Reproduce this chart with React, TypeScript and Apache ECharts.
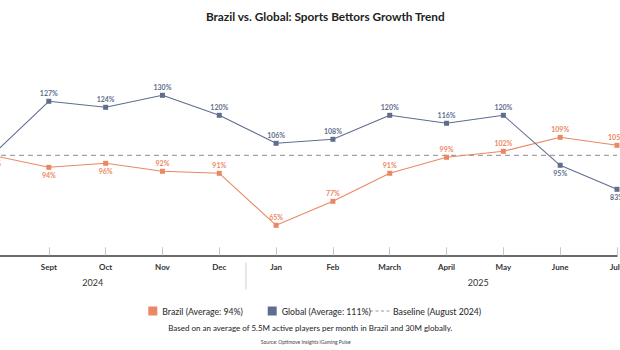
import React, { useEffect, useRef } from "react";
import * as echarts from "echarts";

const months = ["Aug", "Sept", "Oct", "Nov", "Dec", "Jan", "Feb", "March", "April", "May", "June", "July"];
const brazil = [100, 94, 96, 92, 91, 65, 77, 91, 99, 102, 109, 105];
const globalVals = [100, 127, 124, 130, 120, 106, 108, 120, 116, 120, 95, 83];
const baseline = [100, 100, 100, 100, 100, 100, 100, 100, 100, 100, 100, 100];
const brazilLabelPos = ["bottom", "bottom", "bottom", "top", "top", "top", "top", "top", "top", "top", "top", "top"];
const globalLabelPos = ["none", "top", "top", "top", "top", "top", "top", "top", "top", "top", "bottom", "bottom"];
const years = ["2024", "2025"];

const ORANGE = "#EA8863";
const BLUE = "#5F6E8F";
const FONT = "Lato, 'Open Sans', sans-serif";
const DX = 8;

export default function App() {
  const ref = useRef<HTMLDivElement>(null);
  useEffect(() => {
    if (!ref.current) return;
    const chart = echarts.init(ref.current, undefined, { renderer: "svg" });
    const mkData = (vals: number[], pos: string[]) =>
      vals.map((v, i) => ({
        value: v,
        label: pos[i] === "none" ? { show: false } : { show: true, position: pos[i] },
      }));
    chart.setOption({
      animation: false,
      textStyle: { fontFamily: FONT },
      grid: { left: 0, top: 55.3, width: 625, height: 200, containLabel: false, outerBoundsMode: "none" },
      xAxis: {
        type: "category",
        data: months,
        boundaryGap: false,
        axisLine: { lineStyle: { color: "#3a3a3a", width: 1.5 } },
        axisTick: { inside: true, length: 8, lineStyle: { color: "#c8c8c8" } },
        axisLabel: { color: "#333", fontSize: 8, fontWeight: "bold", margin: 8, fontFamily: FONT },
      },
      yAxis: { type: "value", min: 50, max: 150, show: false, splitLine: { show: false } },
      legend: [
        {
          left: 148.3 + DX, top: 306.5, padding: 0, itemWidth: 9, itemHeight: 9, itemGap: 5,
          data: [{ name: "Brazil (Average: 94%)", icon: "rect" }],
          textStyle: { fontSize: 8.7, color: "#333", fontFamily: FONT, fontWeight: 500 },
        },
        {
          left: 267.7 + DX, top: 306.5, padding: 0, itemWidth: 9, itemHeight: 9,
          data: [{ name: "Global (Average: 111%)", icon: "rect" }],
          textStyle: { fontSize: 8.7, color: "#333", fontFamily: FONT, fontWeight: 500 },
        },
        {
          left: 370 + DX, top: 306.5, padding: 0, itemWidth: 20, itemHeight: 9,
          data: [{ name: "Baseline (August 2024)", icon: "none" }],
          textStyle: { fontSize: 8.7, color: "#333", fontFamily: FONT, fontWeight: 500, padding: [0, 0, 0, -2] },
        },
      ],
      graphic: [
        {
          type: "text", x: 325.3 + DX, y: 16,
          style: { text: "Brazil vs. Global: Sports Bettors Growth Trend", fill: "#222", font: `bold 11.8px ${FONT}`, textAlign: "center", textVerticalAlign: "middle" },
        },
        {
          type: "text", x: 92.7 + DX, y: 282.7,
          style: { text: years[0], fill: "#333", font: `9px ${FONT}`, textAlign: "center", textVerticalAlign: "middle" },
        },
        {
          type: "text", x: 478.3 + DX, y: 282.7,
          style: { text: years[1], fill: "#333", font: `9px ${FONT}`, textAlign: "center", textVerticalAlign: "middle" },
        },
        {
          type: "line", shape: { x1: 246 + DX, y1: 262.7, x2: 246 + DX, y2: 289.3 },
          style: { stroke: "#cfcfcf", lineWidth: 1 },
        },
        {
          type: "line", shape: { x1: 370 + DX, y1: 311, x2: 390 + DX, y2: 311 },
          style: { stroke: "#9a9a9a", lineWidth: 1, lineDash: [3, 2.5] },
        },
        {
          type: "text", x: 310.3 + DX, y: 328.3,
          style: { text: "Based on an average of 5.5M active players per month in Brazil and 30M globally.", fill: "#222", font: `8px ${FONT}`, textAlign: "center", textVerticalAlign: "middle" },
        },
        {
          type: "text", x: 305.7 + DX, y: 342.3,
          style: { text: "Source: Optimove Insights iGaming Pulse", fill: "#444", font: `5px ${FONT}`, textAlign: "center", textVerticalAlign: "middle" },
        },
      ],
      series: [
        {
          name: "Baseline (August 2024)",
          type: "line",
          data: baseline,
          symbol: "none",
          lineStyle: { color: "#a3a3a3", width: 1.3, type: [5, 4] },
          itemStyle: { color: "#a3a3a3" },
          z: 1,
          silent: true,
        },
        {
          name: "Brazil (Average: 94%)",
          type: "line",
          data: mkData(brazil, brazilLabelPos),
          symbol: "rect",
          symbolSize: 5,
          lineStyle: { color: ORANGE, width: 1.1 },
          itemStyle: { color: ORANGE },
          label: { distance: 2, fontSize: 7, fontWeight: "bold", color: ORANGE, fontFamily: FONT, formatter: "{c}%" },
          z: 3,
        },
        {
          name: "Global (Average: 111%)",
          type: "line",
          data: mkData(globalVals, globalLabelPos),
          symbol: "rect",
          symbolSize: 5,
          lineStyle: { color: BLUE, width: 1.1 },
          itemStyle: { color: BLUE },
          label: { distance: 2, fontSize: 7, fontWeight: "bold", color: BLUE, fontFamily: FONT, formatter: "{c}%" },
          z: 3,
        },
      ],
    });
    return () => chart.dispose();
  }, []);
  return (
    <div style={{ position: "fixed", left: 0, top: 0, width: 620, height: 350, overflow: "hidden", background: "#fff" }}>
      <div ref={ref} style={{ position: "absolute", left: -DX, top: 0, width: 640, height: 350 }} />
    </div>
  );
}
